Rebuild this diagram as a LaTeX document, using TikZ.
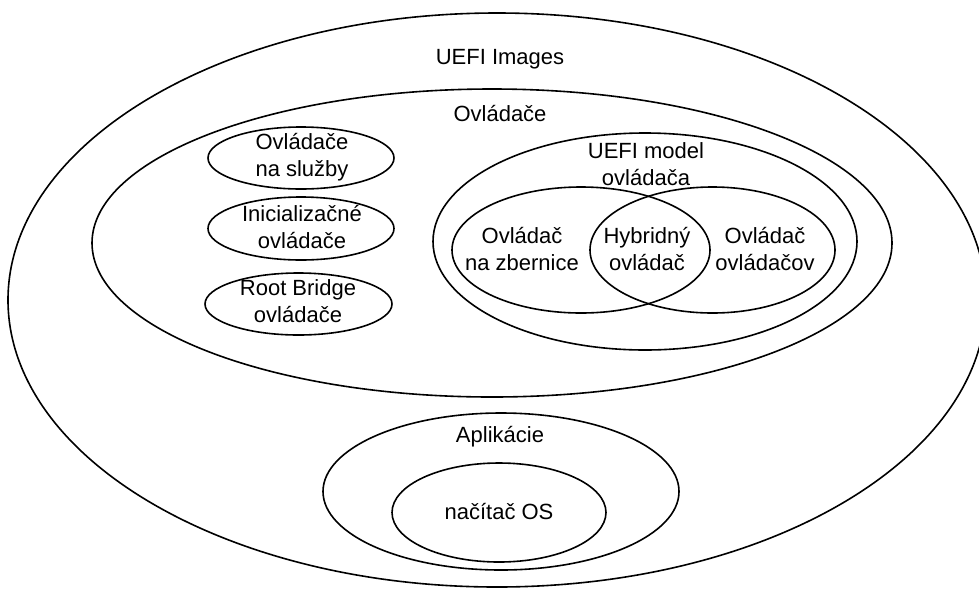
\documentclass[tikz,border=0pt]{standalone}
\usepackage{fontspec}
\setmainfont{Liberation Sans}
\usetikzlibrary{shapes.geometric}
\begin{document}
\begin{tikzpicture}[x=1pt,y=-1pt,
  ell/.style={draw=black, line width=1.6pt, ellipse, inner sep=0pt},
  lbl/.style={align=center, inner sep=0pt, font=\fontsize{22}{27}\selectfont}]
\useasboundingbox (0,0) rectangle (979,590);
\fill[white] (0,0) rectangle (979,590);
% ellipses
\node[ell, minimum width=978pt, minimum height=574pt] (images) at (497,300) {};
\node[ell, minimum width=800pt, minimum height=308pt] (drivers) at (492,243) {};
\node[ell, minimum width=186pt, minimum height=62pt] (svc) at (301,158) {};
\node[ell, minimum width=186pt, minimum height=63pt] (init) at (301,228.5) {};
\node[ell, minimum width=187pt, minimum height=62pt] (root) at (298.5,304) {};
\node[ell, minimum width=424pt, minimum height=217pt] (model) at (645,241.5) {};
\node[ell, minimum width=258pt, minimum height=126pt] (bus) at (581,250) {};
\node[ell, minimum width=245pt, minimum height=126pt] (ctl) at (712.5,250) {};
\node[ell, minimum width=356pt, minimum height=157pt] (apps) at (501,491.5) {};
\node[ell, minimum width=214pt, minimum height=99pt] (loader) at (499,512.5) {};
% labels
\node[lbl] (timages) at (500,59.5) {UEFI Images};
\node[lbl] (tdrivers) at (500,114) {Ovládače};
\node[lbl] (tsvc) at (302,157) {Ovládače\\na služby};
\node[lbl] (tinit) at (302,227) {Inicializačné\\ovládače};
\node[lbl] (troot) at (298,301.5) {Root Bridge\\ovládače};
\node[lbl] (tmodel) at (646,164) {UEFI model\\ovládača};
\node[lbl] (tbus) at (522,249) {Ovládač\\na zbernice};
\node[lbl] (thyb) at (647,249) {Hybridný\\ovládač};
\node[lbl] (tctl) at (765,249) {Ovládač\\ovládačov};
\node[lbl] (tapps) at (500,436.5) {Aplikácie};
\node[lbl] (tloader) at (499,511) {načítač OS};
\end{tikzpicture}
\end{document}
